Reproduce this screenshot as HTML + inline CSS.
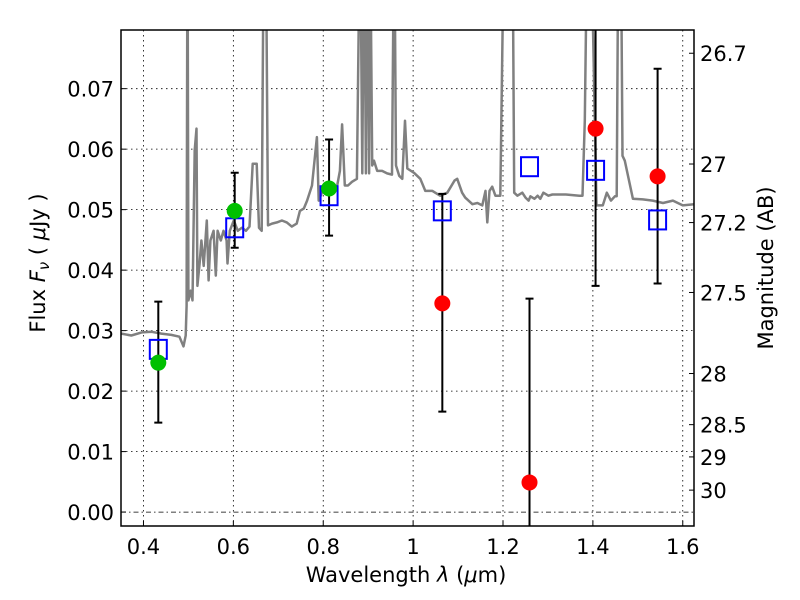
<!DOCTYPE html>
<html><head><meta charset="utf-8"><style>
html,body{margin:0;padding:0;background:#fff;width:800px;height:600px;overflow:hidden;}
svg{display:block;font-family:"DejaVu Sans","Liberation Sans",sans-serif;}
</style></head><body>
<svg id="chart" width="800" height="600" xmlns="http://www.w3.org/2000/svg">
<rect width="800" height="600" fill="#fff"/>
<g id="grid"></g>
<defs><clipPath id="clip"><rect x="121" y="30" width="573" height="496"/></clipPath></defs>
<g id="plot" clip-path="url(#clip)"></g>
<g id="marks"></g>
<rect x="121" y="30" width="573" height="496" fill="none" stroke="#000" stroke-width="1.5"/>
<g id="axes"></g>
<text x="406" y="582" font-size="21" text-anchor="middle">Wavelength  <tspan font-style="italic">λ</tspan> (<tspan font-style="italic">μ</tspan>m)</text>
<text transform="translate(45,263) rotate(-90)" font-size="21" text-anchor="middle">Flux  <tspan font-style="italic">F</tspan><tspan font-style="italic" font-size="15" dy="4">ν</tspan><tspan dy="-4">  (  </tspan><tspan font-style="italic">μ</tspan>Jy )</text>
<text transform="translate(773,268) rotate(-90)" font-size="21" text-anchor="middle">Magnitude (AB)</text>
</svg>
<script>
const specLam = [0.351,0.373,0.396,0.418,0.440,0.462,0.480,0.489,0.494,0.496,0.498,0.500,0.505,0.509,0.514,0.518,0.520,0.525,0.529,0.534,0.541,0.545,0.549,0.556,0.561,0.565,0.572,0.578,0.585,0.587,0.592,0.601,0.610,0.619,0.628,0.636,0.643,0.652,0.657,0.663,0.668,0.672,0.677,0.686,0.697,0.708,0.719,0.730,0.741,0.748,0.757,0.764,0.775,0.786,0.790,0.797,0.808,0.815,0.824,0.831,0.837,0.842,0.848,0.855,0.864,0.875,0.882,0.887,0.891,0.895,0.898,0.902,0.904,0.909,0.913,0.920,0.931,0.942,0.953,0.958,0.962,0.969,0.976,0.982,0.987,1.002,1.016,1.027,1.043,1.060,1.076,1.092,1.098,1.109,1.116,1.132,1.143,1.154,1.161,1.165,1.170,1.176,1.183,1.194,1.203,1.221,1.225,1.232,1.243,1.250,1.257,1.261,1.270,1.277,1.283,1.290,1.301,1.310,1.340,1.370,1.377,1.382,1.388,1.395,1.408,1.422,1.431,1.440,1.449,1.453,1.457,1.462,1.466,1.471,1.489,1.511,1.533,1.556,1.578,1.600,1.627];
const specFlux = [0.0295,0.0292,0.0297,0.0298,0.0295,0.0293,0.0290,0.0274,0.0292,0.0341,0.10,0.0350,0.0366,0.0350,0.0598,0.0634,0.0374,0.0411,0.0449,0.0407,0.0482,0.0383,0.0449,0.0465,0.0391,0.0465,0.0449,0.0465,0.0449,0.0411,0.0465,0.0482,0.0465,0.0470,0.0465,0.0472,0.0576,0.0576,0.0470,0.0465,0.10,0.10,0.0474,0.0477,0.0479,0.0482,0.0479,0.0472,0.0477,0.0498,0.0502,0.0515,0.0540,0.0620,0.0515,0.0528,0.0543,0.0531,0.0531,0.0540,0.0564,0.0641,0.0540,0.0540,0.0546,0.0551,0.10,0.0560,0.10,0.0560,0.10,0.0560,0.10,0.0573,0.0581,0.0564,0.0564,0.0560,0.0558,0.10,0.0573,0.0556,0.0551,0.0647,0.0568,0.0561,0.0551,0.0531,0.0531,0.0523,0.0528,0.0548,0.0551,0.0528,0.0520,0.0509,0.0511,0.0507,0.0531,0.0479,0.0531,0.0538,0.0523,0.0523,0.10,0.10,0.0528,0.0523,0.0528,0.0520,0.0515,0.0522,0.0518,0.0523,0.0518,0.0528,0.0523,0.0525,0.0525,0.0523,0.0523,0.0647,0.10,0.10,0.0507,0.0507,0.0528,0.0515,0.0522,0.0522,0.10,0.10,0.0589,0.0581,0.0518,0.0517,0.0515,0.0511,0.0515,0.0507,0.0509,0.0507];

const greenLam = [0.433,0.603,0.813];
const greenFlux = [0.0247,0.0498,0.0535];
const greenHi = [0.0348,0.0561,0.0616];
const greenLo = [0.0148,0.0437,0.0457];
const redLam = [1.065,1.259,1.406,1.544];
const redFlux = [0.0345,0.0049,0.0634,0.0555];
const redHi = [0.0526,0.0353,0.0894,0.0733];
const redLo = [0.0166,-0.0255,0.0374,0.0378];
const boxLam = [0.433,0.603,0.813,1.065,1.259,1.406,1.544];
const boxFlux = [0.0269,0.0470,0.0523,0.0498,0.0571,0.0565,0.0483];

const xTicks = [0.4,0.6,0.8,1.0,1.2,1.4,1.6];
const xTickLabels = ["0.4","0.6","0.8","1","1.2","1.4","1.6"];
const yTicks = [0,0.01,0.02,0.03,0.04,0.05,0.06,0.07];
const yTickLabels = ["0.00","0.01","0.02","0.03","0.04","0.05","0.06","0.07"];
const magTicks = [26.7,27,27.2,27.5,28,28.5,29,30];
const magTickLabels = ["26.7","27","27.2","27.5","28","28.5","29","30"];

const L=121,R=694,T=30,B=526, XMIN=0.35, XMAX=1.625, YMIN=-0.0023, YMAX=0.0797;
const X = v => L + (v-XMIN)/(XMAX-XMIN)*(R-L);
const Y = v => B - (v-YMIN)/(YMAX-YMIN)*(B-T);
const magToFlux = m => Math.pow(10,(23.9-m)/2.5);
const NS="http://www.w3.org/2000/svg";
function mk(tag, attrs, parent){const e=document.createElementNS(NS,tag);for(const k in attrs)e.setAttribute(k,attrs[k]);parent.appendChild(e);return e;}
const grid=document.getElementById('grid'), plot=document.getElementById('plot'), marks=document.getElementById('marks'), axes=document.getElementById('axes');

xTicks.forEach((t,i)=>{
  const x=X(t);
  const g=mk('line',{x1:x,x2:x,y1:T,y2:B,stroke:'#000','stroke-width':0.8,'stroke-dasharray':'1.5,3.5'},grid);
  
  
  const tk=mk('line',{x1:x,x2:x,y1:B,y2:B-5,stroke:'#000'},axes);
  
  
  const tx=mk('text',{x:x,y:B+28,'font-size':21,'text-anchor':'middle'},axes);
  tx.textContent=xTickLabels[i];
  
  
});
yTicks.forEach((t,i)=>{
  const y=Y(t);
  const g=mk('line',{x1:L,x2:R,y1:y,y2:y,stroke:'#000','stroke-width':0.8,'stroke-dasharray':t===0?'5,3,1.5,3':'1.5,3.5'},grid);
  
  
  const tk=mk('line',{x1:L,x2:L+5,y1:y,y2:y,stroke:'#000'},axes);
  
  
  const tx=mk('text',{x:L-7,y:y+8,'font-size':21,'text-anchor':'end'},axes);
  tx.textContent=yTickLabels[i];
  
  
});
magTicks.forEach((m,i)=>{
  const y=Y(magToFlux(m));
  const tk=mk('line',{x1:R,x2:R-5,y1:y,y2:y,stroke:'#000'},axes);
  
  
  const tx=mk('text',{x:R+6,y:y+8,'font-size':21},axes);
  tx.textContent=magTickLabels[i];
  
  
});

const pts=specLam.map((l,i)=>X(l).toFixed(1)+','+Y(specFlux[i]).toFixed(1)).join(' ');
const sp=mk('polyline',{points:pts,fill:'none',stroke:'#808080','stroke-width':2.5,'stroke-linejoin':'round'},plot);



function errbar(lam,hi,lo){
  const x=X(lam), y1=Y(hi), y2=Y(lo);
  const e=mk('path',{d:`M${x},${y1}V${y2}M${x-4},${y1}H${x+4}M${x-4},${y2}H${x+4}`,stroke:'#000','stroke-width':2,fill:'none','clip-path':'url(#clip)'},marks);
  
  
}
greenLam.forEach((l,i)=>errbar(l,greenHi[i],greenLo[i]));
redLam.forEach((l,i)=>errbar(l,redHi[i],redLo[i]));
boxLam.forEach((l,i)=>{
  const r=mk('rect',{x:X(l)-8.5,y:Y(boxFlux[i])-9.5,width:17,height:19,fill:'none',stroke:'#0000ff','stroke-width':2},marks);
  
  
});
greenLam.forEach((l,i)=>{
  const c=mk('circle',{cx:X(l),cy:Y(greenFlux[i]),r:8,fill:'#00c000'},marks);
  
  
});
redLam.forEach((l,i)=>{
  const c=mk('circle',{cx:X(l),cy:Y(redFlux[i]),r:8,fill:'#ff0000'},marks);
  
  
});
</script>
</body></html>
